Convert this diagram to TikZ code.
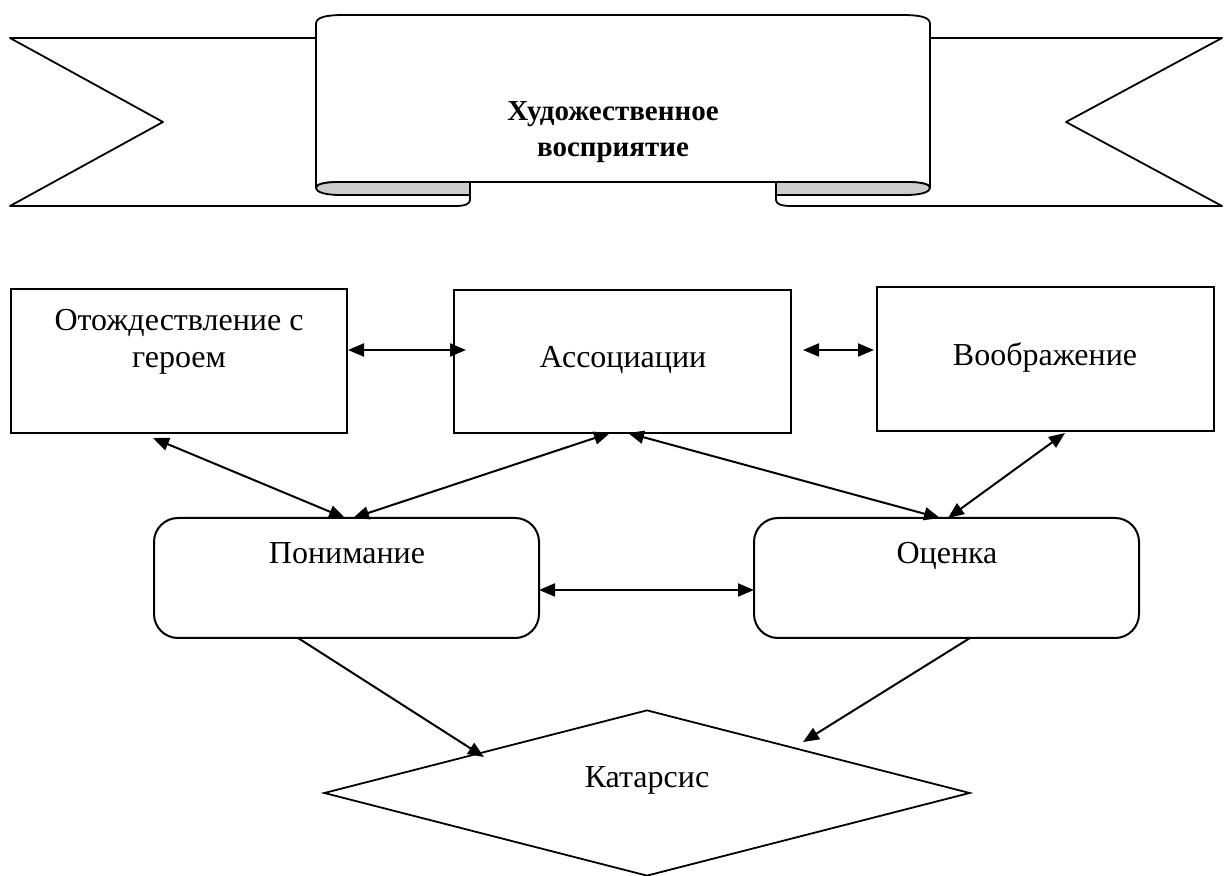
\documentclass[tikz,border=0pt]{standalone}
\usepackage{fontspec}
\setmainfont{Liberation Serif}
\usetikzlibrary{arrows.meta,shapes.geometric}
\tikzset{
  band/.style={line width=0.9pt, line join=round},
  sqbox/.style={draw, line width=1pt, inner sep=0pt},
  rbox/.style={draw, line width=1pt, inner sep=0pt, rounded corners=12pt,
    minimum width=192.5pt, minimum height=60pt},
  lbl/.style={anchor=base, inner sep=0pt, align=center,
    font=\fontsize{16}{18.5}\selectfont},
  title/.style={anchor=base, inner sep=0pt, align=center,
    font=\fontsize{14.5}{18}\selectfont\bfseries},
  twoway/.style={line width=1pt, {Triangle[length=8pt,width=6.5pt]}-{Triangle[length=8pt,width=6.5pt]}},
  oneway/.style={line width=1pt, -{Triangle[length=8pt,width=6.5pt]}}
}
\begin{document}
\begin{tikzpicture}[x=0.5pt,y=-0.5pt]
\useasboundingbox (0,0) rectangle (1227,876);
% ---- banner ----
\draw[band] (330,38) -- (10,38) -- (163,122) -- (10,206) -- (455,206)
  .. controls (465,206) and (470,204) .. (470,200) -- (470,182);
\draw[band] (900,38) -- (1222,38) -- (1066,122) -- (1222,206) -- (791,206)
  .. controls (781,206) and (776,204) .. (776,200) -- (776,182);
\draw[band, fill=white] (316,188) -- (316,24) .. controls (316,17) and (326,15) .. (345,15)
  -- (901,15) .. controls (920,15) and (930,17) .. (930,24) -- (930,188)
  .. controls (930,184) and (921,182) .. (906,182) -- (340,182)
  .. controls (325,182) and (316,184) .. (316,188) -- cycle;
\draw[band, fill=gray!40] (316,188) .. controls (316,184) and (325,182) .. (340,182)
  -- (470,182) -- (470,195) -- (340,195) .. controls (325,195) and (316,192) .. (316,188) -- cycle;
\draw[band, fill=gray!40] (930,188) .. controls (930,184) and (921,182) .. (906,182)
  -- (776,182) -- (776,195) -- (906,195) .. controls (921,195) and (930,192) .. (930,188) -- cycle;
\node[title] (ttl) at (613,157) {Художественное\\восприятие};
% ---- boxes ----
\node[sqbox, minimum width=168pt, minimum height=72pt] (otz) at (179,361) {};
\node[sqbox, minimum width=168.5pt, minimum height=71.5pt] (assoc) at (622.5,361.5) {};
\node[sqbox, minimum width=168.5pt, minimum height=72pt] (voob) at (1045.5,359) {};
\node[rbox] (ponim) at (346.5,578) {};
\node[rbox] (ocen) at (946.5,578) {};
\node[draw, diamond, line width=0.9pt, inner sep=0pt, minimum width=323pt, minimum height=83pt] (kat) at (647,793) {};
\node[lbl] (totz) at (179,368) {Отождествление с\\героем};
\node[lbl] (tassoc) at (623,368) {Ассоциации};
\node[lbl] (tvoob) at (1045,366) {Воображение};
\node[lbl] (tponim) at (347,564) {Понимание};
\node[lbl] (tocen) at (947,564) {Оценка};
\node[lbl] (tkat) at (647,788) {Катарсис};
% ---- connector ends ----
\coordinate (a1) at (348,350); \coordinate (a2) at (466,350);
\coordinate (b1) at (803,350); \coordinate (b2) at (874,350);
\coordinate (c1) at (153,438); \coordinate (c2) at (345,518);
\coordinate (d1) at (610,433); \coordinate (d2) at (353,518);
\coordinate (e1) at (628,433); \coordinate (e2) at (940,518);
\coordinate (f1) at (1065,433); \coordinate (f2) at (948,518);
\coordinate (g1) at (539,590); \coordinate (g2) at (754,590);
\coordinate (h1) at (298,638); \coordinate (h2) at (484,757);
\coordinate (i1) at (970,638); \coordinate (i2) at (803,742);
\draw[twoway] (a1) -- (a2);
\draw[twoway] (b1) -- (b2);
\draw[twoway] (c1) -- (c2);
\draw[twoway] (d1) -- (d2);
\draw[twoway] (e1) -- (e2);
\draw[twoway] (f1) -- (f2);
\draw[twoway] (g1) -- (g2);
\draw[oneway] (h1) -- (h2);
\draw[oneway] (i1) -- (i2);
\end{tikzpicture}
\end{document}
